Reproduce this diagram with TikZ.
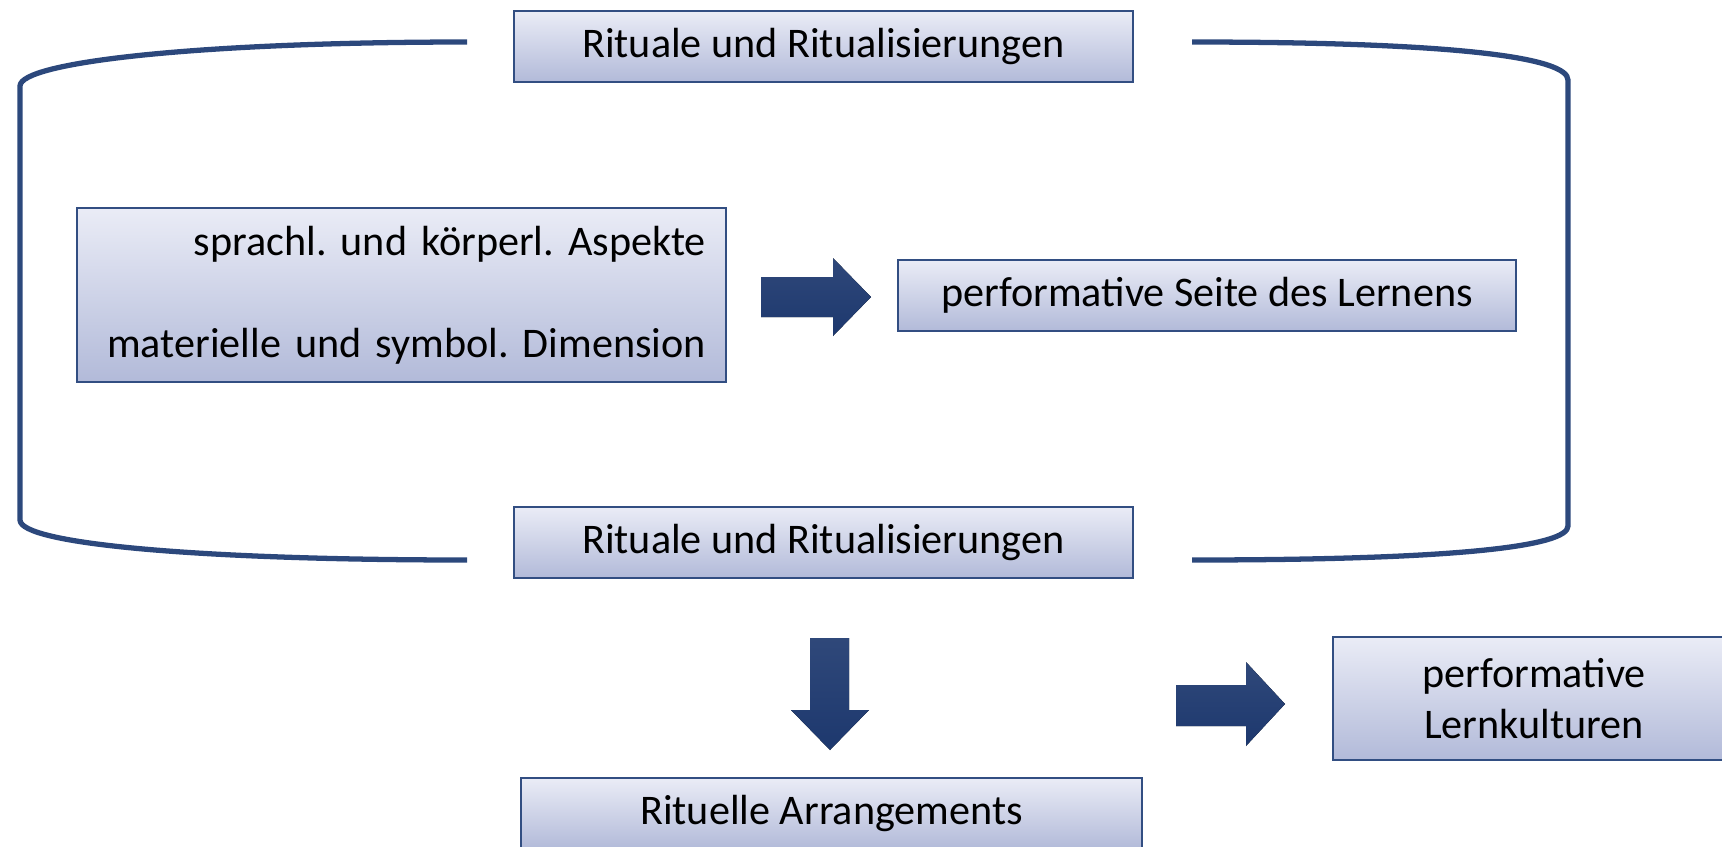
\documentclass[tikz,border=0pt]{standalone}
\usepackage{fontspec}
\setmainfont{Carlito}
\usepackage{xcolor}
\usepackage{tikz}
\definecolor{RahmenBlau}{RGB}{50,78,130}
\definecolor{KlammerBlau}{RGB}{44,72,124}
\definecolor{PfeilBlau}{RGB}{29,56,110}
\definecolor{KastenOben}{RGB}{234,236,246}
\definecolor{KastenUnten}{RGB}{178,186,217}
\frenchspacing

\begin{document}
\begin{tikzpicture}[x=0.02cm, y=-0.02cm]
\tikzset{
	kasten/.style={
		draw=RahmenBlau,
		line width=1.1pt,
		top color=KastenOben,
		bottom color=KastenUnten,
		inner sep=0pt,
		font=\fontsize{24}{29}\selectfont,
		text=black
	},
	breitkasten/.style={kasten, minimum width=12.38cm, minimum height=1.42cm},
	blockpfeil/.style={top color=PfeilBlau!92!white, bottom color=PfeilBlau, draw=none},
	klammer/.style={draw=KlammerBlau, line width=3pt, line join=round}
}
\useasboundingbox (0,0) rectangle (1722,846);

% Kaesten
\node[breitkasten] (ritOben) at (823.5,46.5) {Rituale und Ritualisierungen};
\node[kasten, text width=12.18cm, inner xsep=0.4cm, align=right,
	minimum height=3.48cm] (aspekte) at (401.5,295)
	{sprachl. und körperl. Aspekte\\[29pt] materielle und symbol. Dimension};
\node[breitkasten] (seite) at (1207,295.5) {performative Seite des Lernens};
\node[breitkasten] (ritUnten) at (823.5,542.5) {Rituale und Ritualisierungen};
\node[breitkasten, minimum width=12.42cm] (arrangements) at (831.5,813.5) {Rituelle Arrangements};
\node[kasten, minimum width=8.04cm, minimum height=2.46cm, align=center]
	(lernkultur) at (1534,698.5) {performative\\Lernkulturen};

% Klammer links und rechts
\draw[klammer] (467,42) .. controls (200,42) and (20,62) .. (20,86)
	-- (20,520) .. controls (20,544) and (200,560) .. (467,560);
\draw[klammer] (1192,42) .. controls (1460,42) and (1568,58) .. (1568,80)
	-- (1568,526) .. controls (1568,546) and (1460,560) .. (1192,560);

% Blockpfeile
\fill[blockpfeil] (761,277) -- (833,277) -- (833,258) -- (871,297)
	-- (833,336) -- (833,317) -- (761,317) -- cycle;
\fill[blockpfeil] (810,638) -- (849,638) -- (849,710) -- (869,710)
	-- (830,750) -- (791,710) -- (810,710) -- cycle;
\fill[blockpfeil] (1176,685) -- (1246,685) -- (1246,662) -- (1285,704)
	-- (1246,746) -- (1246,726) -- (1176,726) -- cycle;
\end{tikzpicture}
\end{document}
